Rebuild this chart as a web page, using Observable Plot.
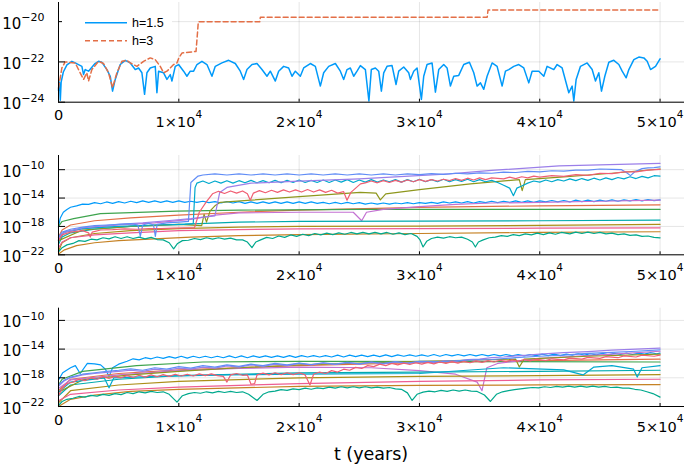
<!DOCTYPE html>
<html><head><meta charset="utf-8">
<script src="https://cdn.jsdelivr.net/npm/d3@7"></script>
<script src="https://cdn.jsdelivr.net/npm/@observablehq/plot@0.6"></script>
<style>
body{margin:0;background:#fff;width:685px;height:468px;position:relative;overflow:hidden;font-family:"DejaVu Sans",sans-serif}
.panel{position:absolute;left:0}
#xlabel{position:absolute;left:0;width:742px;text-align:center;top:444px;font-size:17.5px;color:#000}
#legend{position:absolute;left:62px;top:4px;background:#fff}
</style></head><body>
<div id="p1" class="panel" style="top:0"></div>
<div id="p2" class="panel" style="top:130px"></div>
<div id="p3" class="panel" style="top:276px"></div>
<div id="legend"></div>
<div id="xlabel">t (years)</div>
<script>
// ---------- data (t in years, values as log10 exponents) ----------
const xTickValues = [0, 10000, 20000, 30000, 40000, 50000];
const xTickLabels = ["0", "1×10^4", "2×10^4", "3×10^4", "4×10^4", "5×10^4"];
const p1YTicks = [-24, -22, -20];
const p1YTickLabels = ["10^−24", "10^−22", "10^−20"];
const p23YTicks = [-22, -18, -14, -10];
const p23YTickLabels = ["10^−22", "10^−18", "10^−14", "10^−10"];
const palette = ["#009AFA","#E36F47","#3EA44E","#C371D2","#AC8E18","#00AAAE","#ED5E93","#C68225","#00A98D","#8E971D","#00A9CD","#9B7FE9","#618DF6","#F05F73"];
const legendLabels = ["h=1.5", "h=3"];

const p1_h15 = [[0,-23.4],[80,-23.0],[150,-23.9],[220,-23.0],[400,-22.5],[700,-22.15],[1112,-21.97],[1389,-22.05],[1943,-22.22],[2082,-22.63],[2220,-22.38],[2497,-22.46],[3000,-22.1],[3329,-21.97],[3606,-22.02],[4022,-22.38],[4299,-22.71],[4493,-23.45],[4715,-22.87],[5131,-22.13],[5547,-21.92],[5962,-22.05],[6378,-22.38],[6655,-22.30],[6933,-22.54],[7154,-23.61],[7349,-22.54],[7626,-22.30],[8042,-22.22],[8180,-23.53],[8319,-22.46],[8734,-22.54],[9012,-22.87],[9289,-22.63],[9428,-22.95],[9705,-22.22],[9982,-22.13],[10398,-22.46],[10675,-22.71],[10952,-22.46],[11229,-22.46],[11507,-22.13],[11922,-21.97],[12338,-22.13],[12754,-22.71],[13031,-22.22],[13586,-22.05],[14140,-21.92],[14694,-22.08],[15110,-22.46],[15387,-22.87],[15665,-22.38],[16081,-22.13],[16496,-22.08],[16912,-22.38],[17328,-22.71],[17605,-22.46],[18021,-22.95],[18298,-22.46],[18714,-22.22],[19129,-22.30],[19407,-22.71],[19684,-22.46],[20100,-22.71],[20377,-22.30],[20932,-22.08],[21347,-22.22],[21763,-23.20],[22040,-22.54],[22456,-22.22],[23011,-22.08],[23426,-22.46],[23703,-22.87],[23981,-22.38],[24258,-22.30],[24535,-22.71],[24812,-22.46],[25090,-22.18],[25506,-22.38],[25800,-23.94],[26000,-22.38],[26337,-22.30],[26614,-22.46],[26836,-23.45],[27030,-22.54],[27307,-22.22],[27723,-22.18],[28056,-23.12],[28277,-22.46],[28693,-22.25],[29108,-22.54],[29247,-22.87],[29525,-22.46],[29802,-22.30],[30162,-23.86],[30356,-22.71],[30633,-22.13],[31049,-22.05],[31327,-23.50],[31603,-22.38],[32019,-22.13],[32296,-22.30],[32574,-23.20],[32851,-22.71],[33266,-22.67],[33682,-22.13],[34154,-22.02],[34514,-22.54],[34792,-23.20],[35069,-23.04],[35346,-23.36],[35623,-22.71],[36039,-22.05],[36455,-22.22],[36871,-23.20],[37148,-22.46],[37424,-22.38],[37840,-22.22],[38256,-22.13],[38672,-22.30],[39087,-23.04],[39365,-22.46],[39919,-22.46],[40335,-22.71],[40613,-22.22],[41167,-22.38],[41444,-22.13],[41860,-22.30],[42414,-23.53],[42691,-23.20],[42830,-23.94],[43024,-22.87],[43385,-22.22],[43939,-22.05],[44355,-22.38],[44632,-22.95],[44909,-22.54],[45131,-23.45],[45408,-22.71],[45741,-22.02],[46156,-21.92],[46572,-22.13],[46849,-22.46],[47182,-22.79],[47404,-22.38],[47819,-21.89],[48235,-21.76],[48651,-21.80],[48928,-21.97],[49206,-22.38],[49621,-22.22],[50000,-21.85]];
const p1_h3 = [[0,-23.3],[280,-22.3],[557,-22.0],[1389,-22.05],[1800,-22.54],[2082,-22.87],[2350,-22.54],[2497,-22.95],[2775,-22.38],[3329,-21.97],[3745,-22.08],[4160,-22.54],[4493,-23.28],[4854,-22.54],[5270,-21.97],[5685,-21.92],[5962,-22.05],[6517,-22.22],[7071,-21.97],[7626,-21.80],[8042,-21.89],[8457,-22.22],[8734,-22.54],[9012,-22.46],[9289,-22.30],[9566,-22.13],[9844,-22.05],[10000,-21.80],[10260,-21.56],[11430,-21.48],[11560,-20.5],[11620,-20.01],[16720,-20.01],[16780,-19.78],[35630,-19.78],[35700,-19.42],[50000,-19.42]];

const p2_s1 = [[0,-18.1],[150,-16.8],[400,-16.0],[700,-15.6],[1000,-15.3],[1500,-15.1],[2000,-14.85],[2500,-14.9],[3000,-14.65],[3500,-14.8],[4000,-14.55],[4500,-14.75],[5000,-14.5],[5500,-14.7],[6000,-14.45],[6500,-14.65],[7000,-14.4],[7500,-14.6],[8000,-14.4],[8500,-14.6],[9000,-14.4],[9500,-14.6],[10000,-14.4],[10500,-14.6],[11000,-14.45],[11500,-14.6],[12000,-14.45],[12500,-14.65],[13000,-14.5],[13500,-14.7],[14000,-14.5],[14500,-14.7],[15000,-14.5],[15500,-14.75],[16000,-14.55],[16500,-14.75],[17000,-14.55],[17500,-14.75],[18000,-14.55],[18500,-14.75],[19000,-14.55],[19500,-14.75],[20000,-14.55],[20500,-14.75],[21000,-14.55],[21500,-14.75],[22000,-14.6],[22500,-14.8],[23000,-14.6],[23500,-14.8],[24000,-14.6],[24500,-14.8],[25000,-14.65],[25500,-14.85],[26000,-14.7],[26500,-14.85],[27000,-14.7],[27500,-14.85],[28000,-14.7],[28500,-14.8],[29000,-14.65],[29500,-14.8],[30000,-14.65],[30500,-14.75],[31000,-14.6],[31500,-14.75],[32000,-14.55],[32500,-14.7],[33000,-14.55],[33500,-14.7],[34000,-14.5],[34500,-14.7],[35000,-14.5],[35500,-14.65],[36000,-14.45],[36500,-14.65],[37000,-14.45],[37500,-14.6],[38000,-14.4],[38500,-14.6],[39000,-14.4],[39500,-14.6],[40000,-14.4],[40500,-14.55],[41000,-14.35],[41500,-14.55],[42000,-14.35],[42500,-14.55],[43000,-14.3],[43500,-14.5],[44000,-14.3],[44500,-14.5],[45000,-14.3],[45500,-14.45],[46000,-14.25],[46500,-14.45],[47000,-14.25],[47500,-14.4],[48000,-14.2],[48500,-14.4],[49000,-14.2],[49500,-14.35],[50000,-14.25]];
const p2_s2 = [[0,-19.5],[300,-18.5],[1000,-17.8],[3000,-17.2],[6000,-16.8],[10000,-16.4],[15000,-16.0],[20000,-15.7],[30000,-15.3],[40000,-15.1],[50000,-14.95]];
const p2_s3 = [[0,-18.0],[300,-17.3],[1260,-16.9],[3480,-16.2],[9840,-15.85],[15000,-15.7],[25000,-15.6],[50000,-15.6]];
const p2_s4 = [[0,-19.5],[500,-18.8],[2000,-18.3],[5000,-17.8],[8000,-17.5],[11000,-17.0],[13000,-16.4],[15000,-16.1],[20000,-16.0],[24500,-16.0],[25200,-17.2],[25600,-16.0],[27000,-15.6],[30000,-15.2],[33000,-14.9],[36000,-14.7],[40000,-14.6],[45000,-14.45],[50000,-14.3]];
const p2_s5 = [[0,-21.5],[300,-20.3],[1000,-19.6],[3000,-19.0],[6000,-18.6],[10000,-18.3],[15000,-18.1],[20000,-18.0],[30000,-17.95],[40000,-17.85],[50000,-17.7]];
const p2_s6 = [[0,-20.5],[300,-19.5],[1000,-18.9],[3000,-18.4],[6000,-18.0],[10000,-17.7],[15000,-17.4],[20000,-17.3],[30000,-17.25],[40000,-17.2],[50000,-17.1]];
const p2_s7 = [[0,-21],[300,-20.2],[1000,-19.6],[3000,-19.2],[6000,-18.9],[10000,-18.6],[15000,-18.45],[20000,-18.35],[30000,-18.3],[40000,-18.25],[50000,-18.2]];
const p2_s8 = [[0,-21.9],[500,-21.3],[1500,-20.7],[3000,-20.3],[5000,-20.0],[8000,-19.75],[11000,-19.5],[15000,-19.3],[20000,-19.15],[30000,-19.0],[40000,-18.85],[50000,-18.75]];
const p2_s9 = [[0,-21.6],[300,-21.0],[700,-20.6],[1200,-20.4],[1700,-20.0],[2200,-20.1],[2700,-19.8],[3200,-19.9],[3700,-19.6],[4200,-19.75],[4700,-19.45],[5200,-19.7],[5700,-19.45],[6200,-19.7],[6700,-19.5],[7200,-19.75],[7700,-19.55],[8200,-19.85],[8700,-19.9],[9200,-20.3],[9570,-21.15],[9900,-20.4],[10300,-20.0],[10800,-19.95],[11300,-19.7],[11800,-19.85],[12300,-19.6],[12800,-19.8],[13300,-19.6],[13800,-19.8],[14300,-19.65],[14800,-19.9],[15300,-19.9],[15700,-20.2],[16080,-21.0],[16400,-20.2],[16800,-19.9],[17300,-19.55],[17800,-19.7],[18300,-19.35],[18800,-19.55],[19300,-19.2],[19800,-19.4],[20300,-19.1],[20800,-19.3],[21300,-19.0],[21800,-19.2],[22300,-18.95],[22800,-19.15],[23300,-18.9],[23800,-19.1],[24300,-18.85],[24800,-19.05],[25300,-18.85],[25800,-19.05],[26300,-18.85],[26800,-19.05],[27300,-18.85],[27800,-19.1],[28300,-18.9],[28800,-19.15],[29300,-19.0],[29800,-19.4],[30050,-19.9],[30300,-20.9],[30600,-20.1],[31000,-19.7],[31500,-19.5],[32000,-19.65],[32500,-19.45],[33000,-19.6],[33500,-19.5],[34000,-19.8],[34400,-20.2],[34650,-20.9],[34900,-20.2],[35300,-19.9],[35800,-19.6],[36300,-19.5],[36800,-19.3],[37300,-19.4],[37800,-19.15],[38300,-19.3],[38800,-19.05],[39300,-19.2],[39800,-18.95],[40300,-19.15],[40800,-18.9],[41300,-19.1],[41800,-18.85],[42500,-19.05],[43000,-18.8],[43500,-19.0],[44000,-18.8],[44500,-19.0],[45000,-18.85],[45500,-19.05],[46000,-18.95],[46500,-19.15],[47000,-19.05],[47500,-19.25],[48000,-19.2],[48500,-19.4],[49000,-19.35],[49500,-19.55],[50000,-19.6]];
const p2_s10 = [[0,-20],[2000,-18.5],[6000,-18.0],[10000,-17.7],[11900,-17.9],[12100,-16.3],[12300,-17.4],[12600,-15.8],[13000,-15.1],[13450,-14.6],[16000,-14.3],[20000,-13.8],[25080,-13.2],[26400,-13.3],[26750,-14.26],[27200,-13.4],[30000,-12.8],[34240,-12.0],[38300,-11.4],[38540,-12.95],[38800,-11.4],[42000,-11.0],[46000,-10.5],[50000,-9.9]];
const p2_s11 = [[0,-20],[500,-18.8],[2000,-18.3],[5000,-18.0],[8000,-17.8],[10500,-17.7],[11200,-17.6],[11350,-12.5],[11500,-11.9],[12000,-11.6],[12500,-11.95],[13000,-11.6],[13500,-11.9],[14000,-11.55],[14500,-11.9],[15000,-11.55],[15500,-11.85],[16000,-11.5],[16500,-11.85],[17000,-11.55],[17500,-11.85],[18000,-11.5],[18500,-11.85],[19000,-11.5],[19500,-11.8],[20000,-11.45],[20500,-11.8],[21000,-11.5],[21500,-11.8],[22000,-11.45],[22500,-11.8],[23000,-11.45],[23500,-11.75],[24000,-11.4],[24500,-11.8],[25000,-11.45],[25500,-11.75],[26000,-11.4],[26500,-11.75],[27000,-11.45],[27500,-11.7],[28000,-11.4],[28500,-11.75],[29000,-11.4],[29500,-11.7],[30000,-11.35],[30500,-11.7],[31000,-11.4],[31500,-11.7],[32000,-11.35],[32500,-11.7],[33000,-11.4],[33500,-11.65],[34000,-11.35],[34500,-11.7],[35000,-11.4],[35500,-11.7],[36000,-11.5],[36500,-11.8],[37000,-12.2],[37500,-12.6],[37810,-13.66],[38100,-12.6],[38500,-12.3],[39000,-11.9],[39500,-11.6],[40000,-11.75],[40500,-11.45],[41000,-11.7],[41500,-11.4],[42000,-11.6],[42500,-11.3],[43000,-11.55],[43500,-11.25],[44000,-11.5],[44500,-11.2],[45000,-11.45],[45500,-11.15],[46000,-11.4],[46500,-11.1],[47000,-11.3],[47500,-11.0],[48000,-11.25],[48500,-10.95],[49000,-11.15],[49500,-10.85],[50000,-10.9]];
const p2_s12 = [[0,-19.8],[500,-18.8],[2000,-18.2],[5000,-17.7],[7000,-17.5],[9000,-17.2],[11000,-16.9],[13000,-16.5],[13400,-13.2],[14000,-12.5],[16000,-11.9],[20000,-11.6],[25000,-11.3],[32500,-10.6],[36000,-10.1],[41600,-9.45],[50000,-9.1]];
const p2_s13 = [[0,-19.5],[300,-18.8],[1000,-18.4],[2000,-18.1],[3000,-17.9],[4000,-17.8],[5000,-17.7],[6000,-17.6],[6600,-17.8],[6800,-19.4],[7000,-17.8],[7500,-17.55],[7900,-17.8],[8050,-19.4],[8200,-17.7],[9000,-17.5],[10000,-17.4],[10800,-17.3],[11000,-11.8],[11600,-10.9],[12000,-10.75],[13000,-10.6],[14000,-10.75],[15000,-10.6],[16000,-10.75],[17000,-10.6],[18000,-10.75],[19000,-10.6],[20000,-10.75],[21000,-10.6],[22000,-10.75],[23000,-10.6],[24000,-10.75],[25000,-10.6],[26000,-10.75],[27000,-10.6],[28000,-10.75],[29000,-10.6],[30000,-10.7],[31000,-10.55],[32000,-10.65],[33000,-10.5],[34000,-10.6],[35000,-10.45],[36000,-10.5],[37000,-10.35],[38000,-10.4],[39000,-10.25],[40000,-10.3],[41000,-10.15],[42000,-10.2],[43000,-10.05],[44000,-10.05],[45000,-9.9],[46000,-9.95],[46800,-10.0],[47200,-10.4],[47540,-10.84],[47900,-10.3],[48500,-9.85],[49000,-9.75],[49500,-9.7],[50000,-9.6]];
const p2_s14 = [[0,-20],[300,-19.2],[1000,-18.8],[2000,-18.6],[2500,-18.9],[2640,-19.5],[2800,-18.8],[3500,-18.5],[4500,-18.45],[5500,-18.35],[6500,-18.4],[7500,-18.3],[8500,-18.3],[9500,-18.25],[10500,-18.2],[11300,-18.2],[11700,-16.0],[12300,-14.5],[12800,-13.4],[13300,-13.05],[13800,-13.35],[14300,-13.0],[14800,-13.3],[15300,-13.0],[15700,-13.4],[15940,-14.3],[16200,-13.3],[16700,-12.95],[17200,-13.25],[17700,-12.9],[18200,-13.2],[18700,-12.85],[19200,-13.15],[19700,-12.85],[20200,-13.15],[20700,-12.8],[21200,-13.15],[21700,-12.85],[22200,-13.2],[22700,-12.9],[23200,-13.3],[23700,-13.1],[23980,-14.3],[24300,-13.2],[24700,-12.6],[25100,-12.0],[25500,-11.85],[26000,-11.6],[26500,-11.85],[27000,-11.55],[27500,-11.8],[28000,-11.5],[28500,-11.75],[29000,-11.45],[29500,-11.7],[30000,-11.4],[30500,-11.65],[31000,-11.4],[31500,-11.6],[32000,-11.35],[32500,-11.55],[33000,-11.25],[33500,-11.5],[34000,-11.2],[34500,-11.45],[35000,-11.15],[35500,-11.4],[36000,-11.15],[37000,-11.3],[37500,-11.05],[38000,-11.25],[38500,-11.0],[39000,-11.15],[39500,-10.9],[40000,-11.05],[41000,-10.85],[42000,-10.95],[43000,-10.7],[44000,-10.8],[45000,-10.5],[46000,-10.55],[47000,-10.3],[48000,-10.3],[49000,-10.05],[50000,-9.95]];

const p3_s1 = [[0,-18.3],[350,-17.3],[1000,-16.6],[1400,-16.3],[1800,-17.4],[2400,-16.0],[3000,-16.05],[3500,-16.2],[3900,-16.8],[4200,-17.8],[4500,-16.6],[5000,-16.1],[5700,-15.7],[6200,-15.35],[6700,-15.5],[7200,-15.2],[7700,-15.35],[8200,-15.1],[8700,-15.3],[9200,-15.05],[9700,-15.25],[10200,-15.0],[10700,-15.25],[11200,-15.0],[11700,-15.2],[12200,-15.0],[12700,-15.2],[13200,-15.0],[13700,-15.2],[14200,-14.95],[14700,-15.2],[15200,-14.95],[15700,-15.2],[16200,-14.95],[16700,-15.15],[17200,-14.95],[17700,-15.15],[18200,-14.95],[18700,-15.15],[19200,-14.9],[19700,-15.15],[20200,-14.9],[20700,-15.1],[21200,-14.9],[21700,-15.1],[22200,-14.9],[22700,-15.1],[23200,-14.85],[23700,-15.1],[24200,-14.85],[24700,-15.05],[25200,-14.85],[25700,-15.05],[26200,-14.85],[26700,-15.05],[27200,-14.8],[27700,-15.05],[28200,-14.8],[28700,-15.0],[29200,-14.8],[29700,-15.0],[30200,-14.8],[30700,-15.0],[31200,-14.75],[31700,-15.0],[32200,-14.75],[32700,-14.95],[33200,-14.75],[33700,-14.95],[34200,-14.75],[34700,-14.95],[35200,-14.75],[35700,-14.95],[36200,-14.75],[36700,-14.95],[37200,-14.75],[37700,-14.95],[38200,-14.75],[38700,-14.95],[39200,-14.75],[39700,-14.9],[40200,-14.7],[40700,-14.9],[41200,-14.7],[41700,-14.9],[42200,-14.7],[42700,-14.85],[43200,-14.65],[43700,-14.85],[44200,-14.65],[44700,-14.8],[45200,-14.6],[45700,-14.8],[46200,-14.6],[46700,-14.75],[47200,-14.55],[47700,-14.75],[48200,-14.55],[48700,-14.7],[49200,-14.5],[49700,-14.65],[50000,-14.55]];
const p3_s2 = [[0,-19.8],[1000,-18.2],[5000,-17.4],[10000,-16.9],[20000,-16.3],[30000,-15.9],[40000,-15.6],[50000,-15.4]];
const p3_s3 = [[0,-19.0],[300,-18.2],[2000,-17.1],[6500,-16.3],[12000,-15.8],[20000,-15.7],[50000,-15.8]];
const p3_s4 = [[0,-19.5],[1000,-18.3],[5000,-17.6],[10000,-17.0],[15000,-16.7],[20000,-16.5],[26000,-16.6],[30000,-17.0],[33000,-17.5],[34800,-18.6],[35200,-19.8],[35600,-16.6],[36500,-16.0],[40000,-15.3],[45000,-14.8],[50000,-14.3]];
const p3_s5 = [[0,-21.5],[1000,-19.8],[5000,-19.0],[10000,-18.5],[20000,-18.0],[30000,-17.8],[40000,-17.7],[50000,-17.55]];
const p3_s6 = [[0,-20.5],[1000,-19.0],[5000,-18.2],[10000,-17.7],[20000,-17.3],[30000,-17.2],[40000,-17.1],[50000,-16.95]];
const p3_s7 = [[0,-21.2],[1000,-20.3],[5000,-19.7],[10000,-19.3],[20000,-18.8],[30000,-18.5],[40000,-18.3],[50000,-18.2]];
const p3_s8 = [[0,-22],[1000,-21.0],[3000,-20.4],[6000,-19.9],[10000,-19.6],[20000,-19.2],[30000,-19.05],[40000,-19.0],[50000,-18.95]];
const p3_s9 = [[0,-21.86],[300,-21.3],[700,-21.0],[1200,-20.85],[1700,-20.6],[2200,-20.7],[2700,-20.45],[3200,-20.55],[3700,-20.3],[4200,-20.45],[4700,-20.2],[5200,-20.35],[5700,-20.05],[6200,-20.2],[6700,-19.95],[7200,-20.1],[7700,-19.9],[8200,-20.05],[8700,-19.95],[9200,-20.3],[9850,-21.4],[10300,-20.5],[10800,-20.2],[11300,-20.05],[11800,-20.15],[12300,-19.95],[12800,-20.1],[13300,-19.9],[13800,-20.05],[14300,-19.9],[14800,-20.05],[15300,-19.95],[15800,-20.3],[16500,-21.16],[17000,-20.3],[17500,-19.95],[18000,-19.85],[18500,-19.65],[19000,-19.75],[19500,-19.55],[20000,-19.65],[20500,-19.45],[21000,-19.6],[21500,-19.4],[22000,-19.5],[22500,-19.3],[23000,-19.45],[23500,-19.25],[24000,-19.4],[24500,-19.25],[25000,-19.4],[25500,-19.25],[26000,-19.4],[26500,-19.3],[27000,-19.45],[27500,-19.35],[28000,-19.55],[28500,-19.6],[29000,-20.1],[29390,-21.16],[29800,-20.3],[30300,-20.0],[30800,-19.85],[31300,-19.95],[31800,-19.75],[32300,-19.9],[32800,-19.7],[33300,-19.85],[33800,-19.7],[34300,-19.85],[34800,-19.9],[35400,-20.4],[35900,-21.3],[36400,-20.3],[36900,-19.95],[37400,-19.8],[37900,-19.65],[38400,-19.55],[38900,-19.45],[39400,-19.35],[39900,-19.4],[40400,-19.25],[40900,-19.35],[41400,-19.2],[41900,-19.3],[42400,-19.15],[42900,-19.3],[43400,-19.15],[43900,-19.3],[44400,-19.15],[44900,-19.3],[45400,-19.2],[45900,-19.35],[46400,-19.3],[46900,-19.45],[47400,-19.45],[47900,-19.6],[48400,-19.7],[48900,-19.95],[49400,-20.2],[50000,-20.69]];
const p3_s10 = [[0,-20],[2000,-18.3],[6000,-17.6],[10000,-17.1],[15000,-16.6],[20000,-16.2],[30000,-15.7],[38000,-15.4],[38300,-16.5],[38700,-15.4],[44000,-15.0],[50000,-14.7]];
const p3_s11 = [[0,-20],[1000,-18.6],[3800,-18.0],[4200,-19.4],[4600,-18.0],[8000,-17.8],[14000,-17.6],[20000,-17.5],[30000,-17.4],[37000,-16.6],[42000,-16.9],[43600,-17.6],[44500,-16.5],[46000,-16.3],[47800,-16.8],[48100,-17.9],[48500,-16.6],[50000,-16.3]];
const p3_s12 = [[0,-19.2],[500,-18.4],[1000,-18.0],[2000,-17.6],[3000,-17.4],[4000,-17.25],[5000,-17.1],[6000,-16.95],[7000,-17.1],[8000,-16.8],[9000,-16.95],[10000,-16.65],[11000,-16.8],[12000,-16.5],[13000,-16.65],[14000,-16.35],[15000,-16.5],[16000,-16.2],[17000,-16.4],[18000,-16.1],[19000,-16.3],[20000,-16.0],[21000,-16.2],[22000,-15.95],[23000,-16.15],[24000,-15.9],[25000,-16.1],[26000,-15.85],[27000,-16.05],[28000,-15.8],[29000,-16.0],[30000,-15.75],[31000,-15.9],[32000,-15.65],[33000,-15.7],[34000,-15.45],[35000,-15.4],[36000,-15.2],[37000,-15.1],[38000,-14.95],[39000,-14.85],[40000,-14.7],[42000,-14.5],[44000,-14.35],[46000,-14.15],[48000,-14.0],[50000,-13.86]];
const p3_s13 = [[0,-19.0],[500,-18.3],[1000,-17.9],[2000,-17.5],[3000,-17.3],[4000,-17.1],[5000,-16.95],[6000,-16.75],[7000,-16.95],[8000,-16.6],[9000,-16.8],[10000,-16.45],[11000,-16.65],[12000,-16.3],[13000,-16.5],[14000,-16.2],[15000,-16.4],[16000,-16.1],[17000,-16.3],[18000,-16.0],[19000,-16.2],[20000,-15.95],[21000,-16.15],[22000,-15.9],[23000,-16.1],[24000,-15.85],[25000,-16.05],[26000,-15.8],[27000,-16.0],[28000,-15.75],[29000,-15.95],[30000,-15.7],[32000,-15.75],[34000,-15.55],[36000,-15.45],[38000,-15.2],[40000,-15.0],[42000,-14.85],[44000,-14.6],[46000,-14.45],[48000,-14.3],[50000,-14.1]];
const p3_s14 = [[0,-20.5],[300,-19.5],[700,-18.8],[1200,-18.6],[1700,-18.2],[2200,-18.4],[2700,-18.0],[3200,-18.2],[3700,-17.85],[4200,-18.1],[4700,-17.8],[5200,-18.0],[5700,-17.7],[6200,-17.95],[6700,-17.65],[7200,-17.9],[7700,-17.6],[8200,-17.85],[8700,-17.55],[9200,-17.8],[9700,-17.5],[10200,-17.75],[10700,-17.5],[11200,-17.75],[11700,-17.45],[12200,-17.7],[12700,-17.45],[13200,-17.7],[13700,-17.8],[14000,-18.6],[14300,-17.6],[14800,-17.4],[15300,-17.65],[15700,-17.6],[16000,-18.9],[16300,-18.8],[16500,-17.6],[17000,-17.35],[17500,-17.6],[18000,-17.3],[18500,-17.55],[19000,-17.3],[19500,-17.55],[20000,-17.3],[20500,-17.6],[20900,-19.0],[21200,-17.5],[21700,-17.2],[22200,-17.4],[22700,-17.0],[23200,-17.2],[23700,-16.8],[24200,-16.95],[24700,-16.55],[25200,-16.7],[25700,-16.3],[26200,-16.45],[26700,-16.1],[27200,-16.3],[27700,-16.0],[28200,-16.2],[28700,-15.95],[29200,-16.15],[29700,-15.9],[30200,-16.1],[30700,-15.85],[31200,-16.05],[31700,-15.8],[32200,-16.0],[32700,-15.75],[33200,-15.95],[33700,-15.7],[34200,-15.9],[34700,-15.65],[35200,-15.85],[35700,-15.6],[36200,-15.8],[36700,-15.55],[37200,-15.75],[37700,-15.5],[38200,-15.7],[38700,-15.45],[39200,-15.65],[39700,-15.4],[40500,-15.6],[41000,-15.35],[42000,-15.5],[42500,-15.25],[43500,-15.4],[44000,-15.15],[45000,-15.3],[45500,-15.05],[46500,-15.2],[47000,-14.95],[48000,-15.1],[48500,-14.85],[49500,-15.0],[50000,-14.85]];

const p2Series = [p2_s1,p2_s2,p2_s3,p2_s4,p2_s5,p2_s6,p2_s7,p2_s8,p2_s9,p2_s10,p2_s11,p2_s12,p2_s13,p2_s14];
const p3Series = [p3_s1,p3_s2,p3_s3,p3_s4,p3_s5,p3_s6,p3_s7,p3_s8,p3_s9,p3_s10,p3_s11,p3_s12,p3_s13,p3_s14];

// ---------- rendering ----------
const ns = "http://www.w3.org/2000/svg";
const FONT = '"DejaVu Sans", sans-serif';

function supify(svg) {
  svg.querySelectorAll('g[aria-label="x-axis tick label"] text, g[aria-label="y-axis tick label"] text').forEach(t => {
    const s = t.textContent;
    if (!s.includes("^")) return;
    const isX = t.closest('g').getAttribute("aria-label").startsWith("x");
    const [b, e] = s.split("^");
    t.textContent = "";
    const a = document.createElementNS(ns, "tspan");
    a.textContent = b;
    const c = document.createElementNS(ns, "tspan");
    c.textContent = e;
    if (isX) { c.setAttribute("font-size", "10.5"); a.setAttribute("dy", "7"); c.setAttribute("dy", "-9.5"); }
    else { c.setAttribute("font-size", "11"); a.setAttribute("dy", "2.2"); c.setAttribute("dy", "-7.3"); }
    t.append(a, c);
  });
}

function panel(el, {series, colors, dashes, width, yDomain, yTicks, yLabels, height, marginTop, marginBottom}) {
  const marks = [
    Plot.gridX(xTickValues, {stroke: "#000", strokeOpacity: 0.1, strokeWidth: 1}),
    Plot.gridY(yTicks.map(e => 10 ** e), {stroke: "#000", strokeOpacity: 0.1, strokeWidth: 1})
  ];
  series.forEach((s, i) => marks.push(Plot.line(s, {
    x: d => d[0], y: d => 10 ** d[1], stroke: colors[i], strokeWidth: width,
    strokeDasharray: dashes && dashes[i] ? dashes[i] : undefined
  })));
  marks.push(
    Plot.ruleX([0], {stroke: "#000", strokeWidth: 1}),
    Plot.ruleY([10 ** yDomain[0]], {stroke: "#000", strokeWidth: 1}),
    Plot.axisX(xTickValues, {tickSize: -3, tickPadding: 11, label: null, fontSize: 14.5,
      tickFormat: d => xTickLabels[xTickValues.indexOf(d)]}),
    Plot.axisY(yTicks.map(e => 10 ** e), {tickSize: -7, tickPadding: 21, label: null, fontSize: 15,
      tickFormat: d => yLabels[yTicks.indexOf(Math.round(Math.log10(d)))]})
  );
  const svg = Plot.plot({
    width: 685, height, marginLeft: 58, marginRight: 1, marginTop, marginBottom,
    x: {domain: [0, 52030]},
    y: {type: "log", domain: yDomain.map(e => 10 ** e)},
    style: {fontFamily: FONT, fontSize: "14px", color: "#000", background: "transparent", overflow: "visible"},
    marks
  });
  supify(svg);
  el.append(svg);
}

panel(document.getElementById("p1"), {
  series: [p1_h15, p1_h3], colors: [palette[0], palette[1]], dashes: [null, "5,3"], width: 1.5,
  yDomain: [-24, -19.05], yTicks: p1YTicks, yLabels: p1YTickLabels,
  height: 130, marginTop: 2, marginBottom: 28.3
});
panel(document.getElementById("p2"), {
  series: p2Series, colors: palette, width: 1.2,
  yDomain: [-22, -8], yTicks: p23YTicks, yLabels: p23YTickLabels,
  height: 146, marginTop: 25, marginBottom: 21.7
});
panel(document.getElementById("p3"), {
  series: p3Series, colors: palette, width: 1.2,
  yDomain: [-22, -8.3], yTicks: p23YTicks, yLabels: p23YTickLabels,
  height: 154, marginTop: 31.7, marginBottom: 24
});

// legend
(function () {
  const lg = d3.select("#legend").append("svg").attr("width", 110).attr("height", 46);
  const dashesL = [null, "5,3"];
  legendLabels.forEach((lab, i) => {
    const y = 18.7 + i * 18;
    lg.append("line").attr("x1", 23).attr("x2", 65).attr("y1", y).attr("y2", y)
      .attr("stroke", palette[i]).attr("stroke-width", 1.5)
      .attr("stroke-dasharray", dashesL[i]);
    lg.append("text").attr("x", 70).attr("y", y).attr("dy", "0.35em")
      .attr("font-family", '"Liberation Sans", Arial, sans-serif').attr("font-size", 12.5)
      .text(lab);
  });
})();
</script>
</body></html>
